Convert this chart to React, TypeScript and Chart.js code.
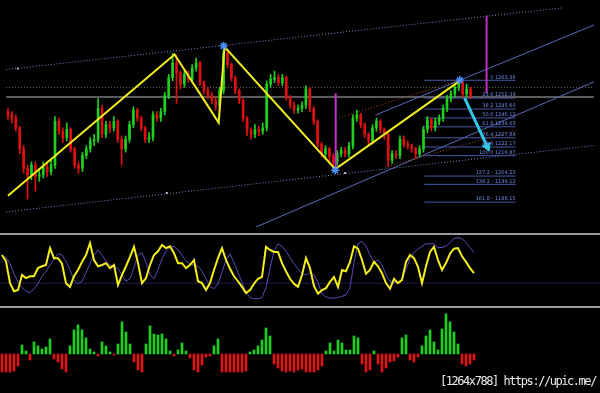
import React, { useEffect, useRef } from "react";
import { Chart, registerables } from "chart.js";
Chart.register(...registerables);

// ---------- price candles (one per bar) ----------
const firstOpen = 1244;
const closes = [
  1242, 1240, 1234, 1221, 1209, 1205, 1211, 1204, 1205, 1210,
  1207, 1211, 1238, 1232, 1228, 1233, 1221, 1211, 1209, 1217,
  1221, 1226, 1227, 1246, 1230, 1236, 1234, 1238, 1227, 1221,
  1227, 1236, 1245, 1240, 1234, 1227, 1228, 1242, 1240, 1244,
  1254, 1265, 1274, 1268, 1261, 1267, 1264, 1271, 1274, 1262,
  1257, 1254, 1251, 1248, 1257, 1280, 1273, 1265, 1257, 1251,
  1240, 1232, 1230, 1233, 1232, 1234, 1261, 1264, 1265, 1262,
  1265, 1253, 1248, 1245, 1246, 1248, 1258, 1246, 1238, 1224,
  1218, 1221, 1216, 1213, 1218, 1220, 1218, 1223, 1240, 1242,
  1236, 1230, 1226, 1234, 1238, 1233, 1230, 1214, 1218, 1217,
  1227, 1224, 1223, 1221, 1218, 1221, 1233, 1239, 1234, 1238,
  1240, 1246, 1252, 1255, 1259, 1262, 1255, 1258, 1254,
];
const highs = [
  1246, 1244, 1242, 1235, 1223, 1211, 1213, 1213, 1209, 1213,
  1213, 1214, 1241, 1240, 1234, 1237, 1234, 1222, 1213, 1219,
  1223, 1228, 1230, 1252, 1248, 1238, 1238, 1241, 1239, 1229,
  1229, 1238, 1247, 1246, 1241, 1235, 1231, 1244, 1244, 1246,
  1256, 1267, 1280, 1279, 1269, 1269, 1269, 1273, 1277, 1275,
  1263, 1259, 1256, 1253, 1259, 1285, 1282, 1274, 1266, 1258,
  1252, 1241, 1234, 1236, 1235, 1237, 1263, 1267, 1269, 1267,
  1267, 1266, 1254, 1250, 1248, 1250, 1260, 1259, 1247, 1239,
  1225, 1223, 1222, 1218, 1220, 1222, 1222, 1225, 1242, 1245,
  1243, 1237, 1231, 1236, 1240, 1239, 1234, 1231, 1220, 1220,
  1229, 1229, 1226, 1224, 1222, 1223, 1235, 1241, 1240, 1240,
  1242, 1248, 1254, 1257, 1261, 1264, 1263, 1261, 1259,
];
const lows = [
  1239, 1237, 1232, 1218, 1206, 1190, 1202, 1195, 1201, 1203,
  1204, 1205, 1209, 1230, 1225, 1226, 1219, 1209, 1206, 1207,
  1215, 1219, 1223, 1225, 1228, 1228, 1231, 1232, 1225, 1211,
  1219, 1225, 1234, 1238, 1232, 1225, 1225, 1226, 1238, 1238,
  1242, 1252, 1263, 1249, 1258, 1259, 1262, 1262, 1269, 1260,
  1255, 1252, 1249, 1245, 1246, 1255, 1271, 1263, 1255, 1249,
  1238, 1229, 1227, 1228, 1229, 1230, 1232, 1259, 1262, 1260,
  1260, 1251, 1246, 1243, 1243, 1244, 1246, 1244, 1236, 1222,
  1216, 1215, 1213, 1208, 1211, 1216, 1216, 1216, 1221, 1238,
  1234, 1228, 1223, 1224, 1232, 1231, 1227, 1210, 1212, 1215,
  1215, 1222, 1221, 1219, 1215, 1216, 1219, 1231, 1232, 1232,
  1236, 1238, 1244, 1250, 1253, 1257, 1253, 1253, 1252,
];

// ---------- drawing objects on the price chart (bar index, price) ----------
const zigzagBars = [0, 42.5, 53.75, 55.25, 83.5, 115.25];
const zigzagPrices = [1192.1, 1279.3, 1237.2, 1284.0, 1208.5, 1263.0];

const upperChannel = [[-0.5, 1270.0], [141.25, 1308.0]];
const lowerChannel = [[-0.5, 1182.1], [149.5, 1223.1]];
const blueLineA = [[63.25, 1172.8], [149.5, 1262.4]];
const blueLineB = [[93.75, 1241.9], [149.5, 1297.5]];
const orangeUpper = [[84.5, 1240.1], [115.25, 1263.5]];
const orangeLower = [[96.25, 1209.7], [129.5, 1232.5]];
const currentPrice = 1253.0;
const askPrice = 1258.9;
const magentaLine1 = [[83.6, 1255.3], [83.6, 1209.7]];
const magentaLine2 = [[122.1, 1303.3], [122.1, 1255.3]];
const cyanArrow = [[116.5, 1252.4], [122.25, 1222.5]];
const pivotMarks = [[55, 1284.6], [83.5, 1207.9], [115.25, 1263.5]];
const whiteDots = [[2.5, 1270.6], [40.5, 1193.9], [86, 1206.1]];

const fibStartBar = 106.25;
const fibEndBar = 129.5;
const fibPrices = [1263.36, 1252.39, 1245.6, 1240.12, 1234.63, 1227.84, 1222.17, 1216.87, 1204.23, 1199.12, 1188.15];
const fibLabels = [
  "0 1263.36", "23.6 1252.39", "38.2 1245.60", "50.0 1240.12", "61.8 1234.63",
  "76.4 1227.84", "88.6 1222.17", "100.0 1216.87", "127.2 - 1204.23",
  "138.2 - 1199.12", "161.8 - 1188.15",
];

// ---------- oscillator ----------
const oscMain = [
  72, 62, 27, 14, 16, 40, 35, 38, 38, 51,
  54, 56, 83, 67, 67, 58, 27, 21, 38, 48,
  61, 72, 91, 64, 54, 56, 59, 51, 56, 24,
  40, 54, 69, 85, 59, 27, 35, 56, 72, 78,
  88, 83, 86, 75, 59, 59, 51, 56, 64, 30,
  27, 16, 27, 48, 67, 83, 64, 50, 38, 30,
  21, 11, 16, 26, 34, 37, 85, 80, 77, 77,
  59, 46, 34, 26, 21, 40, 67, 51, 22, 10,
  16, 19, 29, 37, 21, 48, 46, 61, 86, 82,
  64, 42, 48, 61, 54, 43, 27, 18, 34, 27,
  32, 61, 72, 67, 53, 27, 54, 77, 85, 64,
  48, 59, 74, 82, 83, 70, 61, 51, 43,
];
const oscSignal = [
  70, 68, 58, 42, 28, 20, 14, 12, 18, 26,
  38, 46, 56, 66, 74, 72, 62, 48, 32, 26,
  30, 44, 58, 72, 80, 72, 62, 56, 54, 50,
  40, 30, 34, 52, 72, 76, 60, 40, 34, 48,
  66, 78, 84, 86, 80, 72, 62, 58, 56, 54,
  46, 34, 22, 18, 26, 44, 64, 74, 60, 44,
  28, 12, 4, 2, 2, 4, 20, 50, 78, 90,
  86, 78, 68, 58, 50, 42, 40, 44, 40, 28,
  10, 5, 3, 3, 4, 6, 8, 20, 60, 90,
  94, 86, 72, 60, 64, 56, 40, 30, 28, 28,
  34, 50, 66, 76, 82, 86, 90, 90, 90, 84,
  84, 86, 92, 98, 100, 98, 92, 84, 76,
];
const oscLevel = 27;

// ---------- histogram ----------
const histVals = [
  -18, -18, -18, -17, -12, 9, 3, -6, 12, 8,
  5, 7, 15, -5, -8, -15, -18, 8, 24, 29,
  24, 16, 5, 2, -2, 12, 8, 2, -1, 10,
  32, 22, 10, -8, -16, -18, 10, 28, 20, 19,
  20, 15, 3, -2, 4, 11, 3, -4, -16, -18,
  -11, -3, -2, 8, 15, -18, -18, -18, -18, -18,
  -18, -17, 2, 4, 8, 14, 26, 18, -10, -14,
  -17, -18, -17, -18, -16, -15, -18, -18, -18, -16,
  -12, 3, 11, 3, 14, 11, 4, 4, 18, 16,
  -10, -18, -16, 3, -10, -18, -14, -8, -7, -3,
  16, 19, -6, -8, -3, 8, 18, 24, 12, 4,
  25, 40, 32, 22, 10, -10, -12, -10, -6,
];

const GREEN = "#1fd01f";
const RED = "#e01010";
const X_MIN = -0.5;
const X_MAX = 149.5;

const seg = (pts: number[][], color: string, width: number, dash: number[], order: number) => ({
  type: "line",
  data: pts.map(([x, y]) => ({ x, y })),
  borderColor: color,
  borderWidth: width,
  borderDash: dash,
  pointRadius: 0,
  fill: false,
  tension: 0,
  order,
});

const baseOptions = (yMin: number, yMax: number) => ({
  responsive: false,
  maintainAspectRatio: false,
  devicePixelRatio: 1,
  animation: false,
  events: [],
  layout: { padding: 0 },
  plugins: { legend: { display: false }, tooltip: { enabled: false } },
  scales: {
    x: { type: "linear", min: X_MIN, max: X_MAX, offset: false, bounds: "ticks", display: false },
    y: { type: "linear", min: yMin, max: yMax, display: false },
  },
});

const fibLabelPlugin = {
  id: "fibLabels",
  afterDatasetsDraw(chart: any) {
    const { ctx, scales } = chart;
    ctx.save();
    ctx.font = '5px "DejaVu Sans"';
    ctx.fillStyle = "#6f88e6";
    ctx.textAlign = "right";
    ctx.textBaseline = "bottom";
    const x = scales.x.getPixelForValue(fibEndBar);
    fibPrices.forEach((p, i) => {
      ctx.fillText(fibLabels[i], x, scales.y.getPixelForValue(p) - 0.5);
    });
    ctx.restore();
  },
};

export default function App() {
  const priceRef = useRef<HTMLCanvasElement>(null);
  const oscRef = useRef<HTMLCanvasElement>(null);
  const histRef = useRef<HTMLCanvasElement>(null);

  useEffect(() => {
    const opens = closes.map((c, i) => (i === 0 ? firstOpen : closes[i - 1]));
    const colors = closes.map((c, i) => (c >= opens[i] ? GREEN : RED));

    const fibDatasets = fibPrices.map((p) =>
      seg([[fibStartBar, p], [fibEndBar, p]], "#4658a8", 1, [], 8)
    );

    const priceChart = new Chart(priceRef.current as HTMLCanvasElement, {
      type: "bar",
      data: {
        datasets: [
          seg([[X_MIN, currentPrice], [X_MAX, currentPrice]], "#7a7a7a", 1.5, [], 20),
          seg([[X_MIN, askPrice], [X_MAX, askPrice]], "#5e5e5e", 1, [1, 2], 20),
          seg(upperChannel, "#7a88c8", 1, [1, 2], 19),
          seg(lowerChannel, "#7a88c8", 1, [1, 2], 19),
          seg(blueLineA, "#5a68b8", 1, [], 18),
          seg(blueLineB, "#5a68b8", 1, [], 18),
          seg(orangeUpper, "#a0522d", 1, [1, 2], 17),
          seg(orangeLower, "#a0522d", 1, [1, 2], 17),
          ...fibDatasets,
          {
            type: "bar",
            data: closes.map((c, i) => ({ x: i, y: [lows[i], highs[i]] })),
            backgroundColor: colors,
            barThickness: 1,
            grouped: false,
            order: 6,
          },
          {
            type: "bar",
            data: closes.map((c, i) => ({ x: i, y: [opens[i], c] })),
            backgroundColor: colors,
            barThickness: 2,
            minBarLength: 1,
            grouped: false,
            order: 5,
          },
          seg(magentaLine1, "#c030c8", 2, [], 4),
          seg(magentaLine2, "#c030c8", 2, [], 4),
          {
            type: "line",
            data: zigzagBars.map((b, i) => ({ x: b, y: zigzagPrices[i] })),
            borderColor: "#f2ee20",
            borderWidth: 2,
            pointRadius: 0,
            tension: 0,
            fill: false,
            order: 3,
          },
          seg(cyanArrow, "#33c8e6", 3, [], 2),
          {
            type: "line",
            data: [{ x: cyanArrow[1][0], y: cyanArrow[1][1] }],
            showLine: false,
            pointStyle: "triangle",
            rotation: 156,
            pointRadius: 5,
            backgroundColor: "#33c8e6",
            borderColor: "#33c8e6",
            order: 2,
          },
          {
            type: "line",
            data: pivotMarks.map(([x, y]) => ({ x, y })),
            showLine: false,
            pointStyle: "star",
            pointRadius: 4,
            borderWidth: 1.5,
            borderColor: "#4a90ff",
            backgroundColor: "#4a90ff",
            order: 1,
          },
          {
            type: "line",
            data: whiteDots.map(([x, y]) => ({ x, y })),
            showLine: false,
            pointStyle: "rect",
            pointRadius: 1.2,
            borderWidth: 0,
            backgroundColor: "#e8e8ff",
            order: 1,
          },
        ],
      } as any,
      options: baseOptions(1172.8, 1309.2) as any,
      plugins: [fibLabelPlugin],
    });

    const oscChart = new Chart(oscRef.current as HTMLCanvasElement, {
      type: "line",
      data: {
        datasets: [
          {
            data: oscMain.map((v, i) => ({ x: i, y: v })),
            borderColor: "#f5ef1a",
            borderWidth: 2,
            pointRadius: 0,
            tension: 0,
            order: 1,
          },
          {
            data: oscSignal.map((v, i) => ({ x: i, y: v })),
            borderColor: "#5a48b8",
            borderWidth: 1,
            pointRadius: 0,
            tension: 0,
            order: 2,
          },
          {
            data: [{ x: X_MIN, y: oscLevel }, { x: X_MAX, y: oscLevel }],
            borderColor: "#261d52",
            borderWidth: 1,
            pointRadius: 0,
            order: 3,
          },
        ],
      } as any,
      options: baseOptions(-9.6, 104) as any,
    });

    const histChart = new Chart(histRef.current as HTMLCanvasElement, {
      type: "bar",
      data: {
        datasets: [
          {
            data: histVals.map((v, i) => ({ x: i, y: v })),
            backgroundColor: histVals.map((v) => (v >= 0 ? "#20d020" : "#e01414")),
            barThickness: 2,
            grouped: false,
          },
        ],
      } as any,
      options: baseOptions(-39, 46) as any,
    });

    return () => {
      priceChart.destroy();
      oscChart.destroy();
      histChart.destroy();
    };
  }, []);

  const abs = (top: number, h: number) => ({ position: "absolute" as const, left: 0, top, width: 600, height: h });

  return (
    <div style={{ position: "absolute", left: 0, top: 0, width: 600, height: 393, background: "#000", overflow: "hidden" }}>
      <canvas ref={priceRef} width={600} height={233} style={abs(0, 233)} />
      <div style={{ ...abs(233, 2), background: "#9a9a9a" }} />
      <canvas ref={oscRef} width={600} height={71} style={abs(235, 71)} />
      <div style={{ ...abs(306, 2), background: "#9a9a9a" }} />
      <canvas ref={histRef} width={600} height={85} style={abs(308, 85)} />
      <div
        style={{
          position: "absolute",
          left: 440,
          top: 374,
          color: "#ececec",
          font: '12px "DejaVu Sans Mono"',
          letterSpacing: "-1.45px",
          whiteSpace: "nowrap",
        }}
      >
        [1264x788] https://upic.me/
      </div>
    </div>
  );
}
